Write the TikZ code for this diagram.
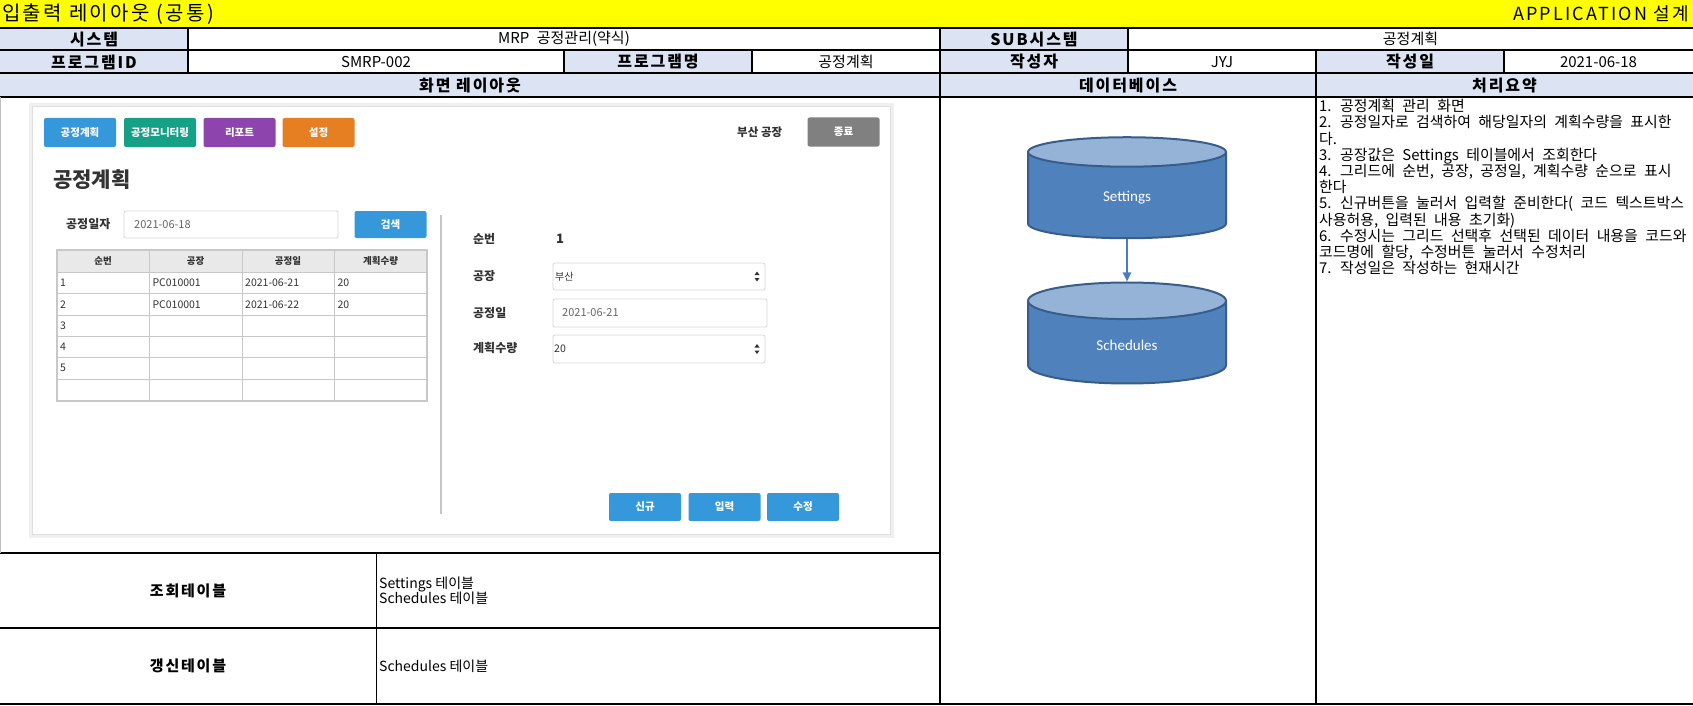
\documentclass[tikz,border=0pt]{standalone}
\usepackage{fontspec}
\setmainfont{Noto Sans CJK KR}
\newfontfamily\hdrfont{Noto Sans CJK KR}[LetterSpace=12]
\newfontfamily\calib{Carlito}
\usetikzlibrary{shapes.geometric}
\usetikzlibrary{arrows,arrows.meta}
\definecolor{hdrblue}{HTML}{DCE4F4}
\definecolor{ttlyellow}{HTML}{FFFF00}
\definecolor{btnblue}{HTML}{3498DB}
\definecolor{btngreen}{HTML}{16A085}
\definecolor{btnpurple}{HTML}{8E44AD}
\definecolor{btnorange}{HTML}{E67E22}
\definecolor{btngray}{HTML}{808080}
\definecolor{uitext}{HTML}{333333}
\definecolor{uigray}{HTML}{666666}
\definecolor{fieldline}{HTML}{D6D6D6}
\definecolor{gridline}{HTML}{C8C8C8}
\definecolor{gridhead}{HTML}{E9E9E9}
\definecolor{dbbody}{HTML}{4F81BD}
\definecolor{dbtop}{HTML}{95B3D7}
\definecolor{dbline}{HTML}{385D8A}
\definecolor{dbarrow}{HTML}{4A7EBB}
\newcommand{\spinarrows}[2]{%
  \fill[uitext] (#1-2.5,#2-1.5) -- (#1+2.5,#2-1.5) -- (#1,#2-5) -- cycle;
  \fill[uitext] (#1-2.5,#2+1.5) -- (#1+2.5,#2+1.5) -- (#1,#2+5) -- cycle;}

\begin{document}
\begin{tikzpicture}[x=1pt,y=-1pt,
  rule/.style={line width=2pt},
  hlabel/.style={font=\hdrfont\bfseries\fontsize{16}{18}\selectfont},
  hvalue/.style={font={\fontsize{15}{18}\selectfont\spaceskip=.5em\relax}},
  btn/.style={rounded corners=2pt, text=white, inner sep=0,
    minimum width=72pt, minimum height=29pt,
    font=\bfseries\fontsize{10.5}{12}\selectfont},
  field/.style={draw=fieldline, fill=white, rounded corners=2pt, line width=0.8pt},
  uilbl/.style={anchor=west, text=uitext, inner sep=0,
    font=\bfseries\fontsize{12}{14}\selectfont},
  celltxt/.style={anchor=west, text=uitext, inner sep=0,
    font=\fontsize{10.5}{12}\selectfont},
  db/.style={cylinder, shape border rotate=90, draw=dbline, line width=2pt,
    cylinder uses custom fill, cylinder body fill=dbbody, cylinder end fill=dbtop,
    minimum width=198pt, minimum height=101pt, aspect=0.54,
    text=white, font=\calib\fontsize{15}{18}\selectfont}]
\useasboundingbox (0,0) rectangle (1693,706);

% title bar
\fill[ttlyellow] (0,0) rectangle (1693,28);
\node[anchor=west, inner sep=0, font=\hdrfont\fontsize{20}{22}\selectfont] (ttl) at (2,14) {입출력 레이아웃 (공통)};
\node[anchor=east, inner sep=0, font=\hdrfont\fontsize{18}{20}\selectfont] (appl) at (1689,14) {APPLICATION 설계};

% header cells
\fill[hdrblue] (0,28) rectangle (188,50.5);
\fill[hdrblue] (940,28) rectangle (1128,50.5);
\fill[hdrblue] (0,50.5) rectangle (188,73.5);
\fill[hdrblue] (564,50.5) rectangle (752,73.5);
\fill[hdrblue] (940,50.5) rectangle (1128,73.5);
\fill[hdrblue] (1316,50.5) rectangle (1504,73.5);
\fill[hdrblue] (0,73.5) rectangle (1693,97);

\node[hlabel] (sysL) at (94,39.25) {시스템};
\node[hvalue] (sysV) at (564,39.25) {MRP 공정관리(약식)};
\node[hlabel] (subL) at (1034,39.25) {SUB시스템};
\node[hvalue] (subV) at (1410.5,39.25) {공정계획};
\node[hlabel] (pidL) at (94,62) {프로그램ID};
\node[hvalue] (pidV) at (376,62) {SMRP-002};
\node[hlabel] (pnmL) at (658,62) {프로그램명};
\node[hvalue] (pnmV) at (846,62) {공정계획};
\node[hlabel] (wrtL) at (1034,62) {작성자};
\node[hvalue] (wrtV) at (1222,62) {JYJ};
\node[hlabel] (dateL) at (1410,62) {작성일};
\node[hvalue] (dateV) at (1598.5,62) {2021-06-18};
\node[hlabel] (scrL) at (470,85.25) {화면 레이아웃};
\node[hlabel] (dbL) at (1128,85.25) {데이터베이스};
\node[hlabel] (sumL) at (1504.5,85.25) {처리요약};

% table rules
\draw[rule] (0,28) -- (1693,28);
\draw[rule] (0,50.5) -- (1693,50.5);
\draw[rule] (0,73.5) -- (1693,73.5);
\draw[rule] (0,97) -- (1693,97);
\draw[rule] (0,553) -- (940,553);
\draw[rule] (0,628) -- (940,628);
\draw[rule] (0,704) -- (1693,704);
\draw[rule] (188,28) -- (188,73.5);
\draw[rule] (564,50.5) -- (564,73.5);
\draw[rule] (752,50.5) -- (752,73.5);
\draw[rule] (940,28) -- (940,704);
\draw[rule] (1128,28) -- (1128,73.5);
\draw[rule] (1316,50.5) -- (1316,704);
\draw[rule] (1504,50.5) -- (1504,73.5);
\draw[line width=1pt] (376,553) -- (376,704);
\draw[gray!50, line width=1pt] (0.5,97) -- (0.5,553);

% screen mock frame
\fill[gray!12] (29,103) rectangle (894,538);
\draw[gray!25, fill=white] (32,106) rectangle (890,534);

% top menu
\node[btn, fill=btnblue] (mPlan) at (80,132.5) {공정계획};
\node[btn, fill=btngreen] (mMon) at (160,132.5) {공정모니터링};
\node[btn, fill=btnpurple] (mRep) at (239.5,132.5) {리포트};
\node[btn, fill=btnorange] (mSet) at (318.5,132.5) {설정};
\node[anchor=west, inner sep=0, text=uitext, font=\bfseries\fontsize{11.5}{13}\selectfont] (plant) at (737,132) {부산 공장};
\node[btn, fill=btngray] (mEnd) at (843.5,132) {종료};

\node[anchor=west, inner sep=0, text=uitext, font=\bfseries\fontsize{21}{24}\selectfont] (scrTitle) at (53,180) {공정계획};

% search line
\node[uilbl] (dayL) at (66,224.5) {공정일자};
\draw[field] (124,211) rectangle (338,238);
\node[celltxt, text=uigray, font=\fontsize{11}{13}\selectfont] (dayV) at (134,224.5) {2021-06-18};
\node[btn, fill=btnblue, minimum height=27pt] (bFind) at (390.5,224.5) {검색};

% grid
\fill[gridhead] (57,250) rectangle (427,272.3);
\draw[gridline, line width=0.8pt] (57,272.3) -- (427,272.3);
\draw[gridline, line width=0.8pt] (57,293.7) -- (427,293.7);
\draw[gridline, line width=0.8pt] (57,315) -- (427,315);
\draw[gridline, line width=0.8pt] (57,336.3) -- (427,336.3);
\draw[gridline, line width=0.8pt] (57,357.7) -- (427,357.7);
\draw[gridline, line width=0.8pt] (57,379) -- (427,379);
\draw[gridline, line width=0.8pt] (149.3,250) -- (149.3,401);
\draw[gridline, line width=0.8pt] (242,250) -- (242,401);
\draw[gridline, line width=0.8pt] (334.3,250) -- (334.3,401);
\draw[gridline, line width=1.5pt] (57,250) rectangle (427,401);
\node[text=uitext, font=\bfseries\fontsize{9.5}{11}\selectfont] (hNo) at (103,261) {순번};
\node[text=uitext, font=\bfseries\fontsize{9.5}{11}\selectfont] (hPlant) at (195.6,261) {공장};
\node[text=uitext, font=\bfseries\fontsize{9.5}{11}\selectfont] (hDay) at (288,261) {공정일};
\node[text=uitext, font=\bfseries\fontsize{9.5}{11}\selectfont] (hQty) at (380.7,261) {계획수량};
\node[celltxt] (r1a) at (60,283) {1};
\node[celltxt] (r1b) at (152.3,283) {PC010001};
\node[celltxt] (r1c) at (245,283) {2021-06-21};
\node[celltxt] (r1d) at (337.3,283) {20};
\node[celltxt] (r2a) at (60,304.3) {2};
\node[celltxt] (r2b) at (152.3,304.3) {PC010001};
\node[celltxt] (r2c) at (245,304.3) {2021-06-22};
\node[celltxt] (r2d) at (337.3,304.3) {20};
\node[celltxt] (r3a) at (60,325.7) {3};
\node[celltxt] (r4a) at (60,347) {4};
\node[celltxt] (r5a) at (60,368.3) {5};

\draw[gray!45, line width=1.5pt] (441,215) -- (441,514);

% detail form
\node[uilbl] (noL) at (473,239) {순번};
\node[uilbl, font=\bfseries\fontsize{13}{15}\selectfont] (noV) at (556,239) {1};
\node[uilbl] (plL) at (473,276.5) {공장};
\draw[field] (553,263) rectangle (765,290);
\node[celltxt, font=\fontsize{10}{12}\selectfont] (plV) at (555,276.5) {부산};
\spinarrows{757}{276.5}
\node[uilbl] (pdL) at (473,313) {공정일};
\draw[field] (553,299) rectangle (767,327);
\node[celltxt, text=uigray, font=\fontsize{11}{13}\selectfont] (pdV) at (562,313) {2021-06-21};
\node[uilbl] (qtL) at (473,348) {계획수량};
\draw[field] (553,335) rectangle (765,363);
\node[celltxt] (qtV) at (554,349) {20};
\spinarrows{757}{349}

\node[btn, fill=btnblue, minimum height=28pt] (bNew) at (645,507) {신규};
\node[btn, fill=btnblue, minimum height=28pt] (bIns) at (724.5,507) {입력};
\node[btn, fill=btnblue, minimum height=28pt] (bUpd) at (803,507) {수정};

% lower rows
\node[hlabel, font=\hdrfont\bfseries\fontsize{15}{17}\selectfont] (selL) at (188,590.5) {조회테이블};
\node[anchor=west, align=left, inner sep=0, font=\fontsize{14}{15.4}\selectfont] (selV) at (379,590.5) {Settings 테이블\\Schedules 테이블};
\node[hlabel, font=\hdrfont\bfseries\fontsize{15}{17}\selectfont] (updL) at (188,666) {갱신테이블};
\node[anchor=west, inner sep=0, font=\fontsize{14}{16}\selectfont] (updV) at (379,666) {Schedules 테이블};

% database
\node[db] (set) at (1127,197.5) {Settings};
\node[db] (sch) at (1127,345) {Schedules};
\draw[dbarrow, line width=2pt, -{Triangle[length=9pt,width=8pt]}] (set.south) -- (sch.north);

% summary
\node[anchor=north west, align=left, inner sep=0,
  font={\fontsize{14.9}{16.2}\selectfont\spaceskip=.5em\relax}] (sumV) at (1319,99) {1. 공정계획 관리 화면\\
2. 공정일자로 검색하여 해당일자의 계획수량을 표시한\\
다.\\
3. 공장값은 Settings 테이블에서 조회한다\\
4. 그리드에 순번, 공장, 공정일, 계획수량 순으로 표시\\
한다\\
5. 신규버튼을 눌러서 입력할 준비한다( 코드 텍스트박스\\
사용허용, 입력된 내용 초기화)\\
6. 수정시는 그리드 선택후 선택된 데이터 내용을 코드와\\
코드명에 할당, 수정버튼 눌러서 수정처리\\
7. 작성일은 작성하는 현재시간};
\end{tikzpicture}
\end{document}
